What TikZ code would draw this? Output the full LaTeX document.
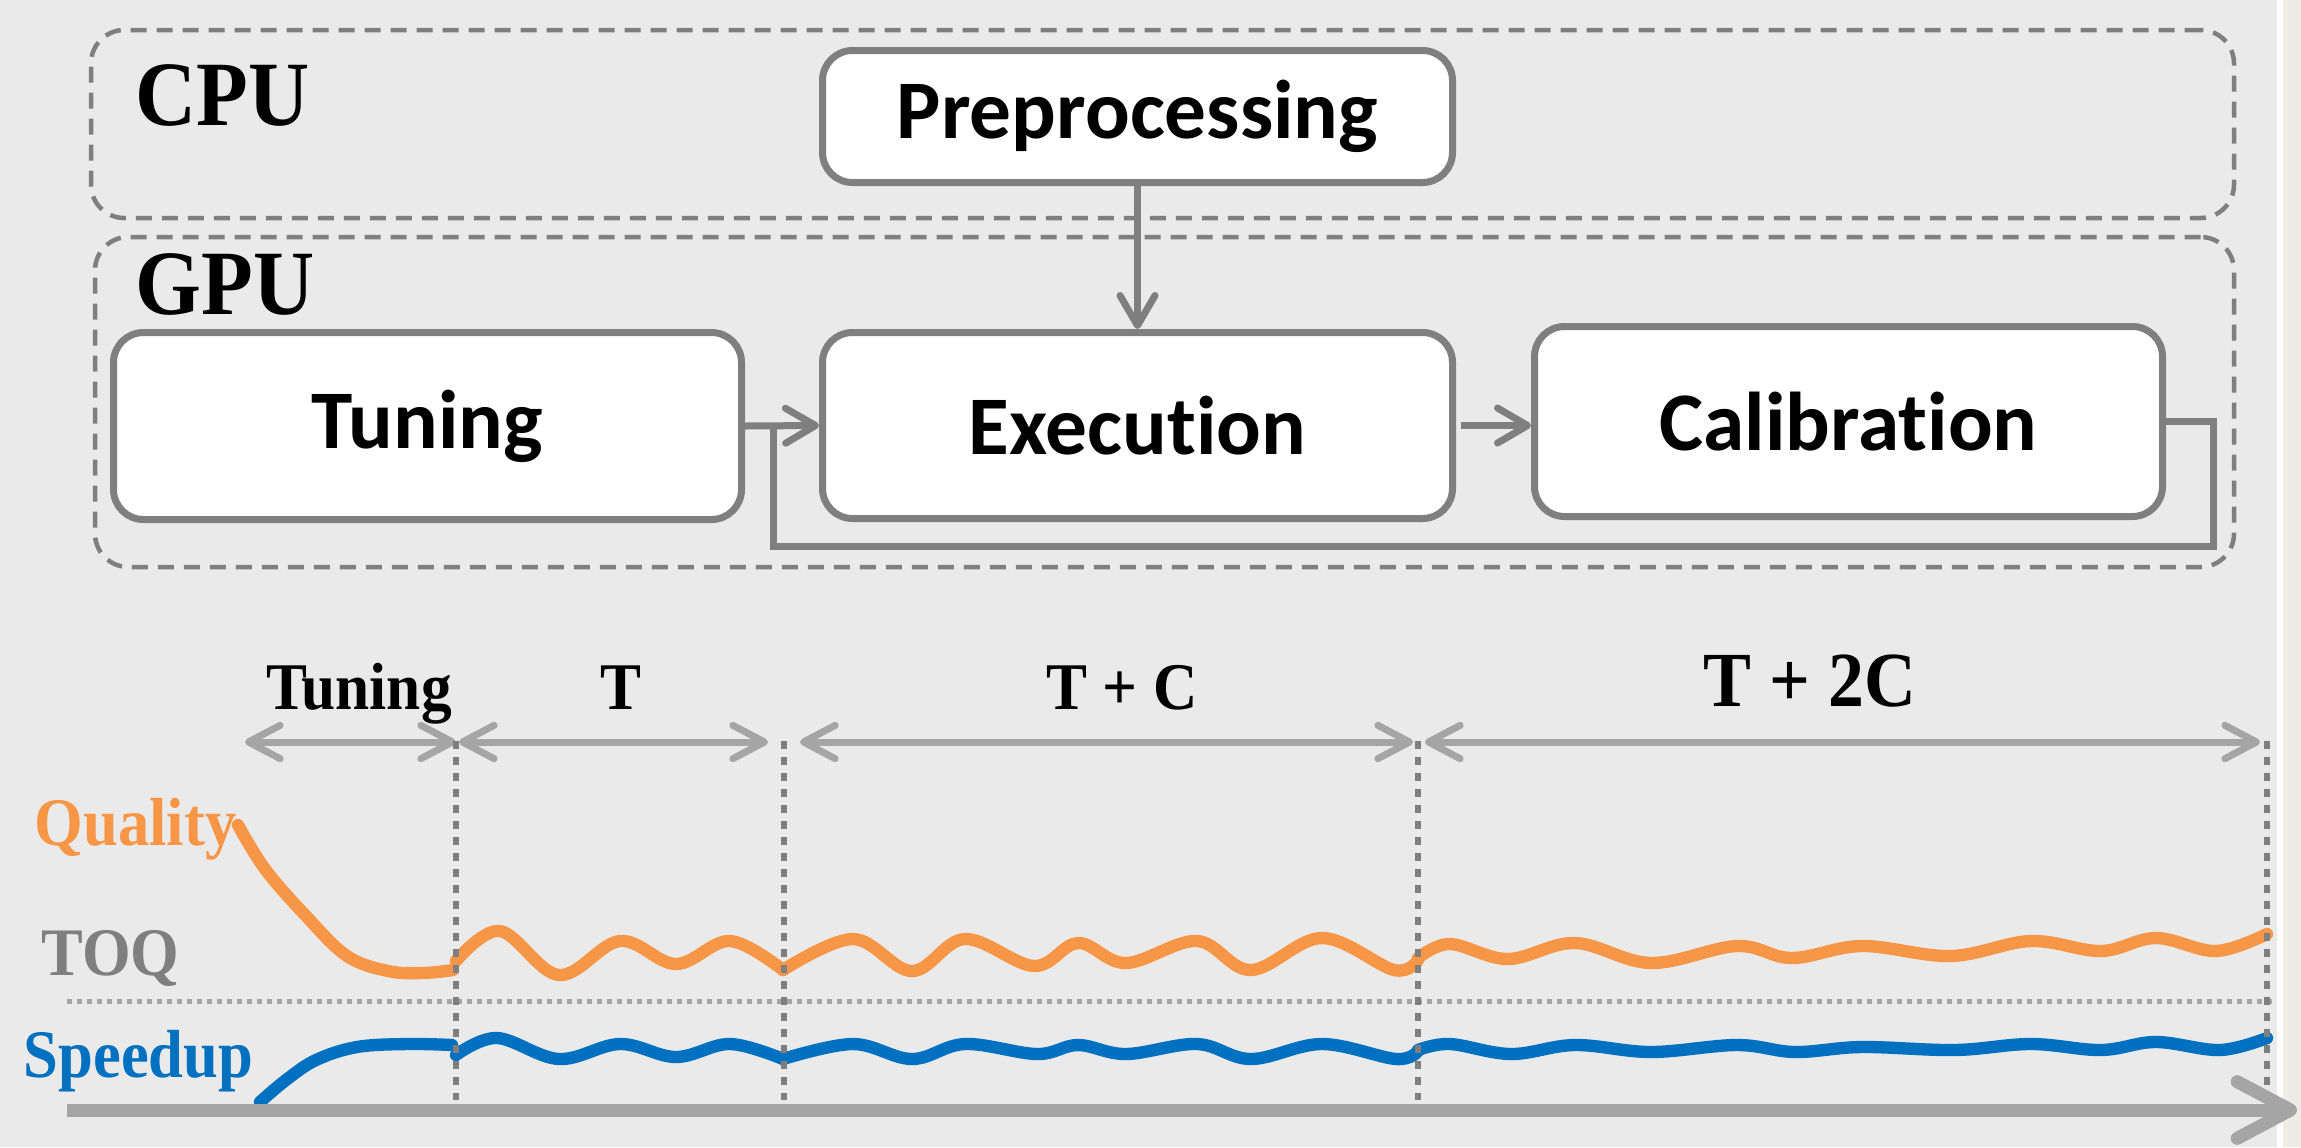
\documentclass[tikz,border=0pt]{standalone}
\usepackage{fontspec}
\setmainfont{Carlito}[Ligatures=NoCommon]
\newfontfamily\serifbold[FakeStretch=0.92]{Liberation Serif}
\usetikzlibrary{arrows.meta}
\definecolor{bg}{HTML}{EAEAEA}
\definecolor{strip}{HTML}{EEECE4}
\definecolor{edge}{HTML}{7F7F7F}
\definecolor{lightedge}{HTML}{A5A5A5}
\definecolor{qual}{HTML}{F79646}
\definecolor{speed}{HTML}{0070C0}

\begin{document}
\begin{tikzpicture}[x=0.3pt,y=-0.3pt,
  stage/.style={draw=edge, line width=2.1pt, fill=white, rounded corners=9pt,
    inner sep=0pt, text=black, font=\fontsize{25}{30}\selectfont\bfseries},
  group/.style={draw=edge, line width=1.35pt, dash pattern=on 4.8pt off 3pt,
    rounded corners=10pt, inner sep=0pt},
  grouplabel/.style={inner sep=0pt, text=black,
    font=\serifbold\bfseries\fontsize{27.6}{30}\selectfont},
  conn/.style={draw=edge, line width=2.1pt},
  flow/.style={conn, -{Straight Barb[length=9pt,width=10.5pt,round]}},
  span/.style={draw=lightedge, line width=2.1pt,
    {Straight Barb[length=9.5pt,width=10pt,round]}-{Straight Barb[length=9.5pt,width=10pt,round]}},
  dimlabel/.style={inner sep=0pt, text=black,
    font=\serifbold\bfseries\fontsize{20}{24}\selectfont},
  serieslabel/.style={inner sep=0pt,
    font=\serifbold\bfseries\fontsize{20.4}{24}\selectfont},
  divider/.style={draw=edge, line width=1.9pt, dash pattern=on 2.3pt off 2.5pt},
  threshold/.style={draw=lightedge, line width=1.5pt, dash pattern=on 1.5pt off 1.5pt},
  axis/.style={draw=lightedge, line width=3.9pt,
    -{Straight Barb[length=16pt,width=17pt,round]}},
  quality/.style={draw=qual, line width=3.7pt, line cap=round},
  speedup/.style={draw=speed, line width=3.7pt, line cap=round},
]
% page background and right margin strip
\fill[bg] (0,0) rectangle (2277,1147);
\fill[white] (2277,0) rectangle (2283,1147);
\fill[strip] (2283,0) rectangle (2301,1147);
\useasboundingbox (0,0) rectangle (2301,1147);

% device groups
\node[group, minimum width=642.9pt, minimum height=56.4pt] (cpu) at (1162.5,124) {};
\node[group, minimum width=641.7pt, minimum height=99pt] (gpu) at (1164.5,402) {};
\node[grouplabel, anchor=base west] (cpulabel) at (135,125) {CPU};
\node[grouplabel, anchor=base west] (gpulabel) at (135,314) {GPU};

% pipeline stages (the kern keeps "t" and "i" as separate letters)
\node[stage, minimum width=189pt, minimum height=39.6pt] (pre) at (1137.5,116.5) {Preprocessing};
\node[stage, minimum width=188.4pt, minimum height=56.1pt] (tun) at (427.5,426) {Tuning};
\node[stage, minimum width=189pt, minimum height=55.8pt] (exe) at (1137.5,425.5) {Execut\kern0pt ion};
\node[stage, minimum width=188.4pt, minimum height=57pt] (cal) at (1848.5,421.5) {Calibrat\kern0pt ion};

% stage connectors
\draw[flow] (pre.south) -- (exe.north);
\draw[flow] (tun.east) -- (exe.west);
\draw[flow, shorten <=1.5pt] (exe.east) -- (exe.east -| cal.west);
\coordinate (loopR) at (2213,546);
\coordinate (loopL) at (773,546);
\draw[conn] (cal.east) -| (loopR) -- (loopL) -- (loopL |- tun.east);

% timeline: phase spans
\coordinate (s0a) at (245,742);  \coordinate (s0b) at (456,742);
\coordinate (s1a) at (459,742);  \coordinate (s1b) at (768,742);
\coordinate (s2a) at (800,742);  \coordinate (s2b) at (1413,742);
\coordinate (s3a) at (1425,742); \coordinate (s3b) at (2260,742);
\draw[span] (s0a) -- (s0b);
\draw[span] (s1a) -- (s1b);
\draw[span] (s2a) -- (s2b);
\draw[span] (s3a) -- (s3b);
\node[dimlabel, anchor=base] (lTun) at (359,709) {Tuning};
\node[dimlabel, anchor=base] (lT) at (621,709) {T};
\node[dimlabel, anchor=base] (lTC) at (1122,709) {T + C};
\node[dimlabel, anchor=base, font=\serifbold\bfseries\fontsize{23.4}{28}\selectfont] (lT2C) at (1810,706) {T + 2C};

% series labels
\node[serieslabel, text=qual, anchor=base west] (lq) at (34,845) {Quality};
\node[serieslabel, text=edge, anchor=base west] (ltoq) at (41,975) {TOQ};
\node[serieslabel, text=speed, anchor=base west] (ls) at (23,1077) {Speedup};

% target quality threshold
\coordinate (toqA) at (67,1001); \coordinate (toqB) at (2272,1001);
\draw[threshold] (toqA) -- (toqB);

% quality curve
\draw[quality] plot[smooth, tension=0.6] coordinates {(238,825) (265,869) (306,916) (347,956) (388,971) (423,973) (453,970)};
\draw[quality] plot[smooth, tension=0.6] coordinates {(456,961) (500,931) (559,975) (620,941) (676,964) (730,941) (783,970)};
\draw[quality] plot[smooth, tension=0.6] coordinates {(783,970) (853,939) (912,971) (965,939) (1034,966) (1078,943) (1126,963) (1197,941) (1251,970) (1322,938) (1394,970) (1418,960)};
\draw[quality] plot[smooth, tension=0.6] coordinates {(1418,958) (1450,944) (1508,959) (1575,943) (1651,963) (1737,946) (1792,958) (1862,946) (1951,956) (2031,941) (2101,951) (2156,938) (2216,951) (2267,934)};

% speedup curve
\draw[speedup] plot[smooth, tension=0.6] coordinates {(260,1102) (286,1080) (316,1060) (357,1047) (408,1044) (452,1045)};
\draw[speedup] plot[smooth, tension=0.6] coordinates {(456,1055) (497,1038) (559,1059) (620,1044) (676,1057) (730,1044) (783,1059)};
\draw[speedup] plot[smooth, tension=0.6] coordinates {(783,1059) (853,1044) (912,1059) (965,1044) (1037,1054) (1078,1045) (1126,1054) (1197,1044) (1251,1059) (1322,1044) (1396,1059) (1418,1051)};
\draw[speedup] plot[smooth, tension=0.6] coordinates {(1418,1050) (1450,1044) (1511,1054) (1575,1045) (1651,1052) (1737,1045) (1795,1052) (1862,1047) (1955,1050) (2031,1044) (2101,1050) (2156,1042) (2220,1050) (2267,1038)};

% phase dividers
\coordinate (d0t) at (456,741);  \coordinate (d0b) at (456,1100);
\coordinate (d1t) at (784,741);  \coordinate (d1b) at (784,1100);
\coordinate (d2t) at (1418,741); \coordinate (d2b) at (1418,1100);
\coordinate (d3t) at (2267,741); \coordinate (d3b) at (2267,1100);
\draw[divider] (d0t) -- (d0b);
\draw[divider] (d1t) -- (d1b);
\draw[divider] (d2t) -- (d2b);
\draw[divider] (d3t) -- (d3b);

% time axis
\coordinate (axA) at (67,1110); \coordinate (axB) at (2297,1110);
\draw[axis] (axA) -- (axB);
\end{tikzpicture}
\end{document}
